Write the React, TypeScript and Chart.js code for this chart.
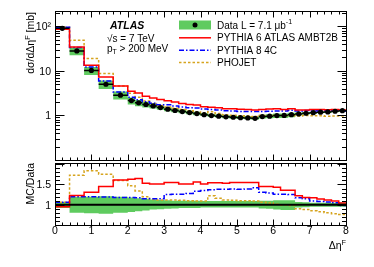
import React, { useEffect, useRef } from "react";
import { Chart, registerables } from "chart.js";

Chart.register(...registerables);

const FONT = '"Liberation Sans", Arial, Helvetica, sans-serif';

// Bin edges in Δη^F
const binEdges = [0, 0.4, 0.8, 1.2, 1.6, 2.0, 2.2, 2.4, 2.6, 2.8, 3.0, 3.2, 3.4, 3.6, 3.8, 4.0, 4.2, 4.4, 4.6, 4.8, 5.0, 5.2, 5.4, 5.6, 5.8, 6.0, 6.2, 6.4, 6.6, 6.8, 7.0, 7.2, 7.4, 7.6, 7.8, 8.0];

// dσ/dΔη^F [mb]
const dataValues = [90, 28, 10.2, 5.0, 2.85, 2.15, 1.92, 1.76, 1.63, 1.5, 1.38, 1.29, 1.22, 1.16, 1.1, 1.04, 0.99, 0.96, 0.93, 0.91, 0.89, 0.88, 0.86, 0.94, 0.96, 0.99, 1.0, 1.04, 1.08, 1.12, 1.15, 1.18, 1.2, 1.24, 1.28];
const pythia6Values = [85.5, 34.4, 13.4, 7.25, 4.59, 3.5, 3.17, 2.69, 2.46, 2.27, 2.14, 2.0, 1.84, 1.75, 1.72, 1.57, 1.52, 1.48, 1.42, 1.41, 1.38, 1.36, 1.33, 1.36, 1.39, 1.42, 1.36, 1.41, 1.32, 1.32, 1.35, 1.35, 1.34, 1.35, 1.33];
const pythia8Values = [95.4, 33.6, 12.2, 5.95, 3.36, 2.54, 2.25, 2.02, 1.87, 1.73, 1.73, 1.63, 1.54, 1.48, 1.46, 1.4, 1.36, 1.32, 1.28, 1.26, 1.23, 1.22, 1.22, 1.23, 1.24, 1.25, 1.26, 1.3, 1.26, 1.29, 1.25, 1.27, 1.28, 1.3, 1.25];
const phojetValues = [95.4, 48.4, 18.8, 8.75, 4.56, 3.16, 2.57, 2.11, 1.84, 1.68, 1.55, 1.44, 1.35, 1.28, 1.2, 1.13, 1.21, 1.11, 1.04, 1.01, 0.98, 0.97, 0.94, 1.0, 1.0, 1.0, 0.99, 1.02, 0.97, 0.99, 0.98, 0.98, 0.96, 0.97, 0.97];

// MC / Data
const pythia6Ratio = [0.95, 1.23, 1.31, 1.45, 1.61, 1.63, 1.65, 1.53, 1.51, 1.51, 1.55, 1.55, 1.51, 1.51, 1.56, 1.51, 1.54, 1.54, 1.53, 1.55, 1.55, 1.55, 1.55, 1.45, 1.45, 1.43, 1.36, 1.36, 1.22, 1.18, 1.17, 1.14, 1.12, 1.09, 1.04];
const pythia8Ratio = [1.06, 1.2, 1.2, 1.19, 1.18, 1.18, 1.17, 1.15, 1.15, 1.15, 1.25, 1.26, 1.26, 1.28, 1.33, 1.35, 1.37, 1.38, 1.38, 1.39, 1.38, 1.39, 1.42, 1.31, 1.29, 1.26, 1.26, 1.25, 1.17, 1.15, 1.09, 1.08, 1.07, 1.05, 0.98];
const phojetRatio = [1.06, 1.73, 1.84, 1.75, 1.6, 1.47, 1.34, 1.2, 1.13, 1.12, 1.12, 1.12, 1.11, 1.1, 1.09, 1.09, 1.22, 1.16, 1.12, 1.11, 1.1, 1.1, 1.09, 1.06, 1.04, 1.01, 0.99, 0.98, 0.9, 0.88, 0.85, 0.83, 0.8, 0.78, 0.76];

// Relative data uncertainty (band)
const dataErrUp = [0.07, 0.19, 0.2, 0.21, 0.2, 0.18, 0.16, 0.15, 0.13, 0.12, 0.11, 0.1, 0.1, 0.1, 0.1, 0.09, 0.09, 0.09, 0.09, 0.09, 0.09, 0.09, 0.09, 0.1, 0.1, 0.11, 0.11, 0.11, 0.07, 0.06, 0.05, 0.05, 0.05, 0.05, 0.05];
const dataErrDown = [0.08, 0.2, 0.21, 0.22, 0.2, 0.18, 0.16, 0.14, 0.12, 0.11, 0.1, 0.09, 0.08, 0.08, 0.08, 0.07, 0.07, 0.07, 0.07, 0.07, 0.07, 0.07, 0.07, 0.09, 0.1, 0.12, 0.13, 0.13, 0.07, 0.06, 0.05, 0.05, 0.05, 0.05, 0.05];

const topYTicks = [1, 10, 100];
const topYTickLabels = ["1", "10", "10²"];
const ratioYTicks = [1, 1.5];
const ratioYTickLabels = ["1", "1.5"];

const GREEN = "#5fcb5f";
const RED = "#ff0000";
const BLUE = "#0000ff";
const ORANGE = "#d6a41e";
const DASH_P8 = [5, 2, 1.5, 2];
const DASH_PHO = [2.5, 2];

const binCenters = binEdges.slice(0, -1).map((e, i) => (e + binEdges[i + 1]) / 2);

function stepPoints(vals: number[]) {
  const pts = vals.map((v, i) => ({ x: binEdges[i], y: v }));
  pts.push({ x: binEdges[binEdges.length - 1], y: vals[vals.length - 1] });
  return pts;
}

type Part = { t: string; sup?: boolean; sub?: boolean };
function drawRich(ctx: CanvasRenderingContext2D, parts: Part[], x: number, y: number, size: number, align: "left" | "right", style = "") {
  const fontMain = `${style} ${size}px ${FONT}`;
  const fontSmall = `${style} ${size * 0.7}px ${FONT}`;
  let total = 0;
  const widths = parts.map((p) => {
    ctx.font = p.sup || p.sub ? fontSmall : fontMain;
    const w = ctx.measureText(p.t).width;
    total += w;
    return w;
  });
  let cx = align === "left" ? x : x - total;
  ctx.textAlign = "left";
  ctx.textBaseline = "alphabetic";
  parts.forEach((p, i) => {
    ctx.font = p.sup || p.sub ? fontSmall : fontMain;
    const dy = p.sup ? -size * 0.42 : p.sub ? size * 0.25 : 0;
    ctx.fillText(p.t, cx, y + dy);
    cx += widths[i];
  });
}

function lineDS(label: string, vals: number[], color: string, dash: number[], order: number) {
  return {
    label,
    data: stepPoints(vals),
    borderColor: color,
    borderWidth: 1.5,
    borderDash: dash,
    pointRadius: 0,
    stepped: true,
    fill: false,
    order,
  };
}

function bandDS(up: number[], down: number[]) {
  return [
    { label: "bandUp", data: stepPoints(up), borderColor: "transparent", borderWidth: 1, pointRadius: 0, stepped: true, fill: false, order: 10 },
    { label: "bandDown", data: stepPoints(down), borderColor: "transparent", borderWidth: 1, pointRadius: 0, stepped: true, fill: "-1", backgroundColor: GREEN, order: 11 },
  ];
}

function frameTicksPlugin(kind: "top" | "ratio") {
  return {
    id: "frameTicks" + kind,
    afterDatasetsDraw(chart: any) {
      const { ctx, chartArea: a, scales } = chart;
      const xs = scales.x;
      const ys = scales.y;
      const L = Math.round(a.left) + 0.5;
      const R = Math.round(a.right) + 0.5;
      const T = Math.round(a.top) + 0.5;
      const B = Math.round(a.bottom) + 0.5;
      ctx.save();
      ctx.strokeStyle = "#000";
      ctx.lineWidth = 1;
      ctx.setLineDash([]);
      ctx.beginPath();
      for (let k = 0; k <= 40; k++) {
        const px = Math.round(xs.getPixelForValue(k * 0.2)) + 0.5;
        const len = k % 5 === 0 ? 6 : 3;
        ctx.moveTo(px, B);
        ctx.lineTo(px, B - len);
        ctx.moveTo(px, T);
        ctx.lineTo(px, T + len);
      }
      const yTick = (v: number, len: number) => {
        const py = Math.round(ys.getPixelForValue(v)) + 0.5;
        ctx.moveTo(L, py);
        ctx.lineTo(L + len, py);
        ctx.moveTo(R, py);
        ctx.lineTo(R - len, py);
      };
      if (kind === "top") {
        for (const d of [0.1, 1, 10, 100]) {
          yTick(d, 9);
          for (let m = 2; m <= 9; m++) if (m * d <= ys.max) yTick(m * d, 4.5);
        }
      } else {
        for (let k = 5; k <= 20; k++) {
          const v = k / 10;
          yTick(v, k % 5 === 0 ? 9 : 4.5);
        }
      }
      ctx.stroke();
      ctx.strokeRect(L, T, R - L, B - T);

      // y tick labels
      const ticks = kind === "top" ? topYTicks : ratioYTicks;
      const labels = kind === "top" ? topYTickLabels : ratioYTickLabels;
      ctx.fillStyle = "#000";
      ticks.forEach((v, i) => {
        const py = ys.getPixelForValue(v);
        drawRich(ctx, [{ t: labels[i] }], a.left - 4, py + 3.8, 10.5, "right");
      });
      ctx.restore();
    },
  };
}

const dataErrorBars = {
  id: "dataErrorBars",
  afterDatasetsDraw(chart: any) {
    const { ctx, scales } = chart;
    ctx.save();
    ctx.strokeStyle = "#000";
    ctx.lineWidth = 1.5;
    ctx.setLineDash([]);
    ctx.beginPath();
    dataValues.forEach((v, i) => {
      const py = scales.y.getPixelForValue(v);
      ctx.moveTo(scales.x.getPixelForValue(binEdges[i]), py);
      ctx.lineTo(scales.x.getPixelForValue(binEdges[i + 1]), py);
    });
    ctx.stroke();
    ctx.restore();
  },
};

const topTexts = {
  id: "topTexts",
  afterDraw(chart: any) {
    const ctx: CanvasRenderingContext2D = chart.ctx;
    ctx.save();
    ctx.fillStyle = "#000";
    ctx.save();
    ctx.translate(34, 12);
    ctx.rotate(-Math.PI / 2);
    drawRich(ctx, [{ t: "dσ/dΔη" }, { t: "F", sup: true }, { t: " [mb]" }], 0, 0, 10.5, "right");
    ctx.restore();
    ctx.font = `italic bold 10.5px ${FONT}`;
    ctx.textAlign = "left";
    ctx.textBaseline = "alphabetic";
    ctx.fillText("ATLAS", 110, 29);
    drawRich(ctx, [{ t: "√s = 7 TeV" }], 107, 42, 10, "left");
    drawRich(ctx, [{ t: "p" }, { t: "T", sub: true }, { t: " > 200 MeV" }], 107, 51.5, 10, "left");
    const sx0 = 179, sx1 = 211, tx = 217;
    const rows = [25, 37.8, 50.3, 62.6];
    ctx.fillStyle = GREEN;
    ctx.fillRect(sx0, rows[0] - 4.5, sx1 - sx0, 9);
    ctx.fillStyle = "#000";
    ctx.beginPath();
    ctx.arc((sx0 + sx1) / 2, rows[0], 2.5, 0, Math.PI * 2);
    ctx.fill();
    const lines: [string, number[]][] = [[RED, []], [BLUE, DASH_P8], [ORANGE, DASH_PHO]];
    lines.forEach(([c, d], i) => {
      ctx.strokeStyle = c;
      ctx.lineWidth = 1.5;
      ctx.setLineDash(d);
      ctx.beginPath();
      ctx.moveTo(sx0, rows[i + 1]);
      ctx.lineTo(sx1, rows[i + 1]);
      ctx.stroke();
    });
    ctx.setLineDash([]);
    ctx.fillStyle = "#000";
    drawRich(ctx, [{ t: "Data L = 7.1 μb" }, { t: "-1", sup: true }], tx, rows[0] + 3.6, 10, "left");
    drawRich(ctx, [{ t: "PYTHIA 6 ATLAS AMBT2B" }], tx, rows[1] + 3.6, 10, "left");
    drawRich(ctx, [{ t: "PYTHIA 8 4C" }], tx, rows[2] + 3.6, 10, "left");
    drawRich(ctx, [{ t: "PHOJET" }], tx, rows[3] + 3.6, 10, "left");
    ctx.restore();
  },
};

const ratioTexts = {
  id: "ratioTexts",
  afterDraw(chart: any) {
    const ctx: CanvasRenderingContext2D = chart.ctx;
    const a = chart.chartArea;
    ctx.save();
    ctx.fillStyle = "#000";
    ctx.save();
    ctx.translate(34, a.top);
    ctx.rotate(-Math.PI / 2);
    drawRich(ctx, [{ t: "MC/Data" }], 0, 0, 10.5, "right");
    ctx.restore();
    drawRich(ctx, [{ t: "Δη" }, { t: "F", sup: true }], a.right, a.bottom + 24, 10.5, "right");
    ctx.restore();
  },
};

export default function App() {
  const topRef = useRef<HTMLCanvasElement>(null);
  const ratioRef = useRef<HTMLCanvasElement>(null);

  useEffect(() => {
    Chart.defaults.font.family = FONT;
    Chart.defaults.color = "#000";

    const yScaleCommon = {
      grid: { display: false, drawTicks: false },
      border: { display: false },
      ticks: { display: false },
      afterFit: (s: any) => {
        s.width = 55;
      },
    };

    const top = new Chart(topRef.current!, {
      type: "line",
      data: {
        datasets: [
          {
            label: "Data",
            data: binCenters.map((x, i) => ({ x, y: dataValues[i] })),
            showLine: false,
            pointRadius: 2.6,
            pointBackgroundColor: "#000",
            pointBorderWidth: 0,
            borderColor: "#000",
            order: 0,
          },
          lineDS("PYTHIA 6 ATLAS AMBT2B", pythia6Values, RED, [], 1),
          lineDS("PYTHIA 8 4C", pythia8Values, BLUE, DASH_P8, 2),
          lineDS("PHOJET", phojetValues, ORANGE, DASH_PHO, 3),
          ...bandDS(
            dataValues.map((v, i) => v * (1 + dataErrUp[i])),
            dataValues.map((v, i) => v * (1 - dataErrDown[i]))
          ),
        ] as any,
      },
      options: {
        responsive: false,
        animation: false,
        devicePixelRatio: 1,
        events: [],
        layout: { padding: { left: 0, right: 28, top: 11, bottom: 1 } },
        plugins: { legend: { display: false }, tooltip: { enabled: false } },
        scales: {
          x: { type: "linear", min: 0, max: 8, display: false },
          y: { type: "logarithmic", min: 0.1, max: 220, ...yScaleCommon },
        },
      } as any,
      plugins: [frameTicksPlugin("top"), dataErrorBars, topTexts],
    });

    const ratio = new Chart(ratioRef.current!, {
      type: "line",
      data: {
        datasets: [
          {
            label: "Data",
            data: stepPoints(dataValues.map((v) => v / v)),
            borderColor: "#000",
            borderWidth: 2,
            pointRadius: 0,
            stepped: true,
            fill: false,
            order: 0,
          },
          lineDS("PYTHIA 6 ATLAS AMBT2B", pythia6Ratio, RED, [], 1),
          lineDS("PYTHIA 8 4C", pythia8Ratio, BLUE, DASH_P8, 2),
          lineDS("PHOJET", phojetRatio, ORANGE, DASH_PHO, 3),
          ...bandDS(
            dataErrUp.map((e) => 1 + e),
            dataErrDown.map((e) => 1 - e)
          ),
        ] as any,
      },
      options: {
        responsive: false,
        animation: false,
        devicePixelRatio: 1,
        events: [],
        layout: { padding: { left: 0, right: 28, top: 8, bottom: 0 } },
        plugins: { legend: { display: false }, tooltip: { enabled: false } },
        scales: {
          x: {
            type: "linear",
            min: 0,
            max: 8,
            grid: { display: false, drawTicks: false },
            border: { display: false },
            afterFit: (s: any) => {
              s.height = 42;
            },
            ticks: {
              stepSize: 1,
              padding: 0,
              maxRotation: 0,
              autoSkip: false,
              font: { size: 10.5, family: FONT },
              color: "#000",
            },
          },
          y: { type: "linear", min: 0.5, max: 2.03, ...yScaleCommon },
        },
      } as any,
      plugins: [frameTicksPlugin("ratio"), ratioTexts],
    });

    return () => {
      top.destroy();
      ratio.destroy();
    };
  }, []);

  return (
    <div style={{ position: "fixed", left: 0, top: 0, width: 374, height: 267, background: "#fff" }}>
      <canvas ref={topRef} width={374} height={164} style={{ position: "absolute", left: 0, top: 0, width: 374, height: 164 }} />
      <canvas ref={ratioRef} width={374} height={112} style={{ position: "absolute", left: 0, top: 155, width: 374, height: 112 }} />
    </div>
  );
}
